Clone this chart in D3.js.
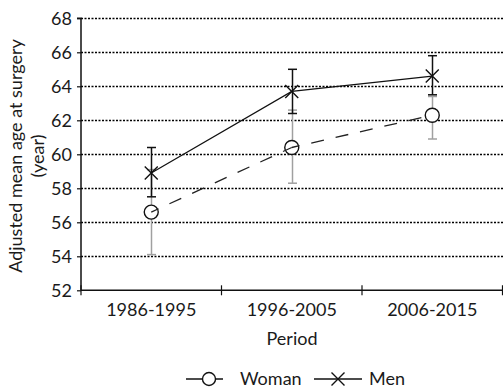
<!DOCTYPE html>
<html><head><meta charset="utf-8">
<script src="https://cdn.jsdelivr.net/npm/d3@7"></script>
<style>body{margin:0;background:#fff}svg{display:block}</style>
</head><body>
<script>
const categories = ["1986-1995","1996-2005","2006-2015"];
const womanMean  = [56.6, 60.4, 62.3];
const womanLow   = [54.1, 58.3, 60.9];
const womanHigh  = [59.1, 62.6, 63.4];
const menMean    = [58.9, 63.7, 64.6];
const menLow     = [57.5, 62.4, 63.5];
const menHigh    = [60.4, 65.0, 65.8];
const yTicks     = [52,54,56,58,60,62,64,66,68];

const W=503,H=388, L=81, R=502.5, T=18.3, B=290.3;
const font = "Lato, 'Open Sans', sans-serif";
const fs = 18;
const svg = d3.select("body").append("svg").attr("width",W).attr("height",H);
const x = d3.scaleBand().domain(categories).range([L,R]);
const y = d3.scaleLinear().domain([52,68]).range([B,T]);
const cx = c => x(c)+x.bandwidth()/2;

// gridlines
svg.append("g").selectAll("line").data(yTicks.filter(t=>t>52)).join("line")
  .attr("x1",L).attr("x2",W).attr("y1",d=>Math.round(y(d))+0.5).attr("y2",d=>Math.round(y(d))+0.5)
  .attr("stroke","#000").attr("stroke-width",1.3).attr("stroke-dasharray","2,1.5");

// y axis
const ya = svg.append("g").attr("transform",`translate(${L},0)`)
  .call(d3.axisLeft(y).tickValues(yTicks).tickSize(4).tickPadding(5));
ya.select(".domain").attr("stroke","#111").attr("stroke-width",1.5).attr("d",`M-4,${T}H0V${B}`);
ya.selectAll(".tick line").attr("stroke","#111").attr("stroke-width",1.2);
ya.selectAll("text").attr("font-family",font).attr("font-size",fs).attr("fill","#1a1a1a");

// x axis
const xa = svg.append("g").attr("transform",`translate(0,${B})`);
xa.append("line").attr("x1",L).attr("x2",W).attr("stroke","#111").attr("stroke-width",1.5);
const bounds = categories.map(c=>x(c)).concat([R]);
xa.selectAll("line.t").data(bounds).join("line").attr("class","t")
  .attr("x1",d=>d).attr("x2",d=>d).attr("y1",-5).attr("y2",5).attr("stroke","#111").attr("stroke-width",1.2);
xa.selectAll("text").data(categories).join("text")
  .attr("x",d=>cx(d)).attr("y",26).attr("text-anchor","middle")
  .attr("font-family",font).attr("font-size",fs).attr("fill","#1a1a1a").text(d=>d);

// axis titles
svg.append("text").attr("x",292).attr("y",345).attr("text-anchor","middle")
  .attr("font-family",font).attr("font-size",fs).attr("fill","#1a1a1a").text("Period");
const yt = svg.append("text").attr("transform","translate(22,156) rotate(-90)")
  .attr("text-anchor","middle").attr("font-family",font).attr("font-size",fs).attr("fill","#1a1a1a");
yt.append("tspan").attr("x",0).attr("dy",0).text("Adjusted mean age at surgery");
yt.append("tspan").attr("x",0).attr("dy",22).text("(year)");

// error bars
function errbars(low, high, color){
  const g = svg.append("g").attr("stroke",color).attr("stroke-width",1.5);
  categories.forEach((c,i)=>{
    const px = Math.round(cx(c))+0.5;
    g.append("line").attr("x1",px).attr("x2",px).attr("y1",y(low[i])).attr("y2",y(high[i]));
    [low[i],high[i]].forEach(v=>g.append("line").attr("x1",px-4.5).attr("x2",px+4.5).attr("y1",y(v)).attr("y2",y(v)));
  });
}
errbars(womanLow, womanHigh, "#a0a0a0");
errbars(menLow, menHigh, "#111");

// women circles
svg.append("g").selectAll("circle").data(categories).join("circle")
  .attr("cx",d=>cx(d)).attr("cy",(d,i)=>y(womanMean[i])).attr("r",7)
  .attr("fill","#fff").attr("stroke","#111").attr("stroke-width",1.4);

// lines
for(let i=0;i<categories.length-1;i++){
  svg.append("line").attr("x1",cx(categories[i])).attr("y1",y(womanMean[i]))
    .attr("x2",cx(categories[i+1])).attr("y2",y(womanMean[i+1]))
    .attr("stroke","#222").attr("stroke-width",1.3).attr("stroke-dasharray","13,12").attr("stroke-dashoffset",5);
}
svg.append("path").attr("d",d3.line().x((d,i)=>cx(categories[i])).y(d=>y(d))(menMean))
  .attr("fill","none").attr("stroke","#111").attr("stroke-width",1.2);

// X markers
const xs=6.5;
function xMark(g,px,py){
  g.append("path").attr("d",`M${px-xs},${py-xs}L${px+xs},${py+xs}M${px-xs},${py+xs}L${px+xs},${py-xs}`)
   .attr("stroke","#111").attr("stroke-width",1.4).attr("fill","none");
}
const mg = svg.append("g");
categories.forEach((c,i)=>xMark(mg,cx(c),y(menMean[i])));

// legend
const lg = svg.append("g");
const ly = 379;
lg.append("line").attr("x1",186).attr("x2",223).attr("y1",ly).attr("y2",ly).attr("stroke","#111").attr("stroke-width",1.3);
lg.append("circle").attr("cx",209).attr("cy",ly).attr("r",6.5).attr("fill","#fff").attr("stroke","#111").attr("stroke-width",1.4);
lg.append("text").attr("x",240).attr("y",ly+6).attr("font-family",font).attr("font-size",fs).attr("fill","#1a1a1a").text("Woman");
lg.append("line").attr("x1",314).attr("x2",362).attr("y1",ly).attr("y2",ly).attr("stroke","#111").attr("stroke-width",1.3);
xMark(lg,338,ly);
lg.append("text").attr("x",369).attr("y",ly+6).attr("font-family",font).attr("font-size",fs).attr("fill","#1a1a1a").text("Men");
</script>
</body></html>
